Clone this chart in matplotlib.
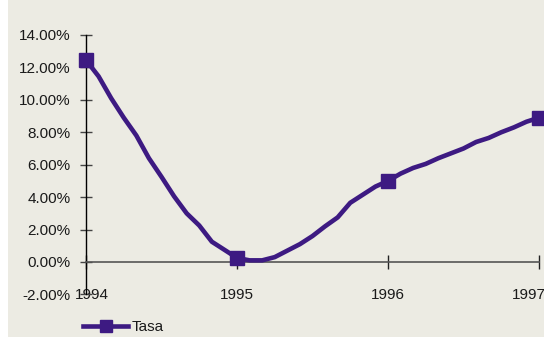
import matplotlib
matplotlib.use("Agg")
import matplotlib.pyplot as plt
import matplotlib.transforms as mtransforms
from matplotlib.patches import Rectangle
from matplotlib.ticker import FuncFormatter
import numpy as np

plt.rcParams['font.family'] = ['Liberation Sans', 'DejaVu Sans']

# Monthly rate values (%) from Jan 1994 to Jan 1997
rate_1994 = [12.45, 11.45, 10.1, 8.9, 7.8, 6.4, 5.25, 4.05, 3.0, 2.25, 1.25, 0.75]
rate_1995 = [0.25, 0.1, 0.1, 0.3, 0.7, 1.1, 1.6, 2.2, 2.75, 3.65, 4.15, 4.65]
rate_1996 = [5.0, 5.45, 5.8, 6.05, 6.4, 6.7, 7.0, 7.4, 7.65, 8.0, 8.3, 8.65]
rate_1997 = [8.9]
years = [1994, 1995, 1996, 1997]
year_labels = ["1994", "1995", "1996", "1997"]
yticks = [-2, 0, 2, 4, 6, 8, 10, 12, 14]
series_name = "Tasa"

values = rate_1994 + rate_1995 + rate_1996 + rate_1997
x = [years[0] + i / 12 for i in range(len(values))]
marker_idx = [i for i in range(len(values)) if i % 12 == 0]

bg = '#ECEBE3'
purple = '#3D1A82'
W, H = 544, 337
FS = 11
fig = plt.figure(figsize=(W / 100, H / 100), dpi=100, facecolor=bg)
fig.patches.append(Rectangle((0, 0), 8 / W, 1, transform=fig.transFigure,
                             facecolor='white', edgecolor='none', zorder=-1))

ax = fig.add_axes([86 / W, 1 - 294.4 / H, 453 / W, (294.4 - 35) / H])
ax.set_facecolor(bg)

line, = ax.plot(x, values, color=purple, lw=3.3, marker='s', markersize=10,
                markevery=marker_idx, clip_on=False, zorder=5,
                solid_joinstyle='round', label=series_name)

ax.set_xlim(years[0], years[-1])
ax.set_ylim(-2, 14)
ax.set_yticks(yticks)
ax.yaxis.set_major_formatter(FuncFormatter(lambda v, p: f"{v:.2f}%"))
ax.set_xticks(years)
ax.set_xticklabels(year_labels)

for s in ['top', 'right']:
    ax.spines[s].set_visible(False)
ax.spines['left'].set_color('black')
ax.spines['left'].set_linewidth(1)
ax.spines['bottom'].set_position(('data', 0))
ax.spines['bottom'].set_color('#555555')
ax.spines['bottom'].set_linewidth(1.2)

ax.tick_params(axis='y', direction='inout', length=8.5, width=1, color='#444444',
               pad=7, labelsize=FS, labelcolor='#1a1a1a')
ax.tick_params(axis='x', direction='inout', length=10, width=1, color='#222222',
               pad=14, labelsize=FS, labelcolor='#1a1a1a')

# Small label shifts as in the original rendering
offsets = {0: 6, 3: -10}
for i, lab in enumerate(ax.get_xticklabels()):
    if i in offsets:
        lab.set_transform(lab.get_transform() +
                          mtransforms.ScaledTranslation(offsets[i] / 100, 0, fig.dpi_scale_trans))

leg = fig.legend(handles=[line], labels=[series_name], loc='center left',
                 bbox_to_anchor=(83 / W, 1 - 327 / H), frameon=False,
                 fontsize=FS, handlelength=2.95, handletextpad=0.26, borderpad=0,
                 borderaxespad=0, markerscale=0.9)
for t in leg.get_texts():
    t.set_color('#1a1a1a')

fig.savefig("out.png", dpi=100, facecolor=bg)
